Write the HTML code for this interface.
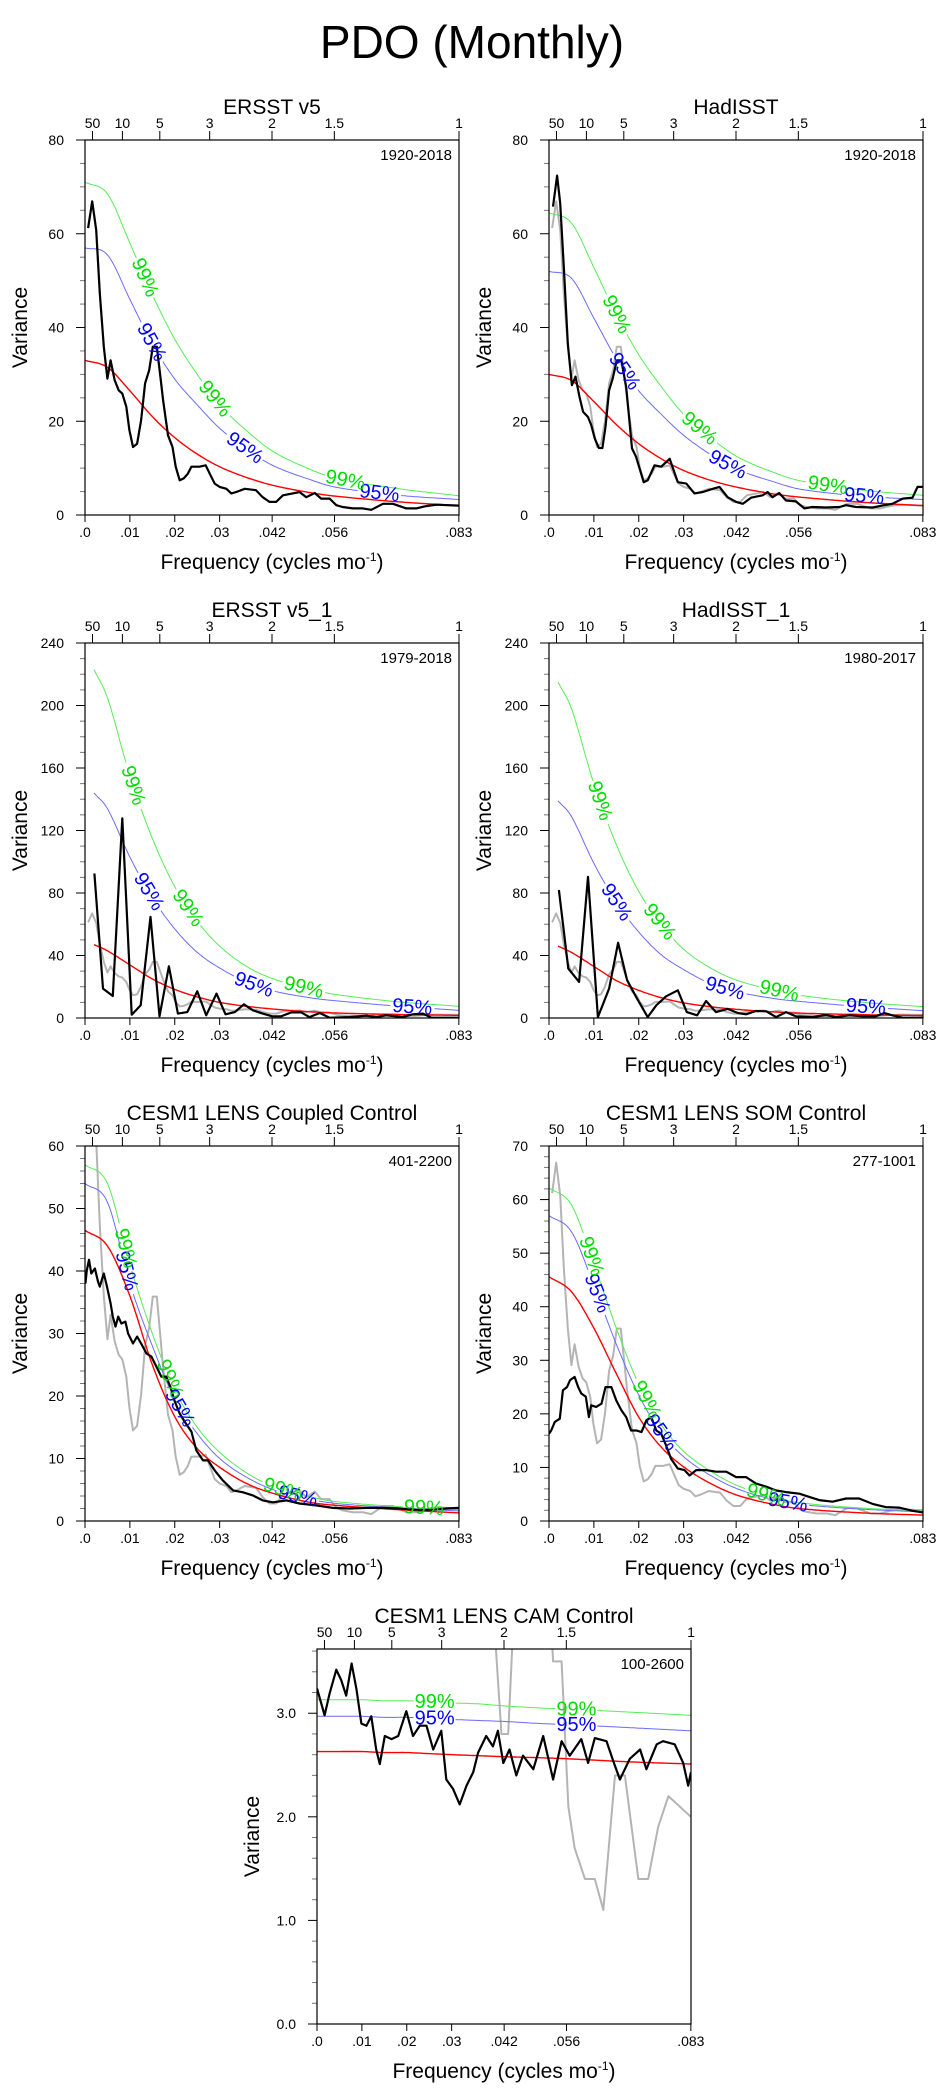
<!DOCTYPE html>
<html><head><meta charset="utf-8">
<style>
html,body{margin:0;padding:0;background:#fff;}
svg{display:block;font-family:"Liberation Sans",sans-serif;}
</style></head>
<body>
<svg id="fig" width="945" height="2091" viewBox="0 0 945 2091" xmlns="http://www.w3.org/2000/svg">
<rect width="945" height="2091" fill="#fff"/>
<text x="472" y="58" font-size="46" text-anchor="middle" fill="#000">PDO (Monthly)</text>
</svg>
<script>
// ---------- data ----------
const theoryF = [0,0.005,0.01,0.015,0.02,0.025,0.03,0.036,0.042,0.05,0.056,0.07,0.0833];
const theoryF2 = [0.002,0.005,0.01,0.015,0.02,0.025,0.03,0.036,0.042,0.05,0.056,0.07,0.0833];
const periodTicks = [50,10,5,3,2,1.5,1];
const freqTicks = [0,0.01,0.02,0.03,0.0417,0.0556,0.0833];
const freqTickLabels = ['.0','.01','.02','.03','.042','.056','.083'];

// ERSST v5 1920-2018 (also gray reference in every panel)
const ersstF = [.0007,.0016,.0025,.0033,.0042,.005,.0057,.0066,.0075,.0083,.0092,.0099,.0107,.0116,.0125,.0134,.0143,.0151,.016,.0168,.0174,.0185,.0195,.0202,.0211,.022,.0229,.0237,.0255,.0269,.0278,.0289,.03,.0315,.0326,.0337,.0356,.0381,.0396,.0411,.0426,.0441,.0463,.0478,.0493,.0512,.0526,.0545,.056,.0574,.0597,.0619,.0638,.0664,.0686,.0716,.0738,.076,.0783,.0833];
const ersstV = [61.2,66.9,60.8,47.3,35.9,29.1,33,28.8,26.6,25.9,23.1,18.1,14.5,15.2,20.2,28.1,30.9,35.9,35.9,29.5,24.5,17,14.5,10.3,7.4,7.8,8.8,10.3,10.3,10.6,8.8,6.7,6.0,5.6,4.6,4.9,5.6,5.3,3.8,2.8,2.8,4.2,4.6,4.9,3.8,4.7,3.5,3.5,2.1,1.7,1.4,1.4,1.1,2.4,2.4,1.4,1.4,1.9,2.2,2.0];
const p1Red = [33,31.5,26.5,21,16.5,13,10.3,8,6.3,4.8,4,2.8,2.0];
const p1C95 = [57,55.5,46,36.5,29,23.5,18.5,14,10.5,7.6,5.9,4.2,3.3];
const p1C99 = [71,68.5,58,47,37.5,30,23.5,18,13.5,9.8,7.8,5.6,4.1];

const hadF = [.0009,.0018,.0025,.0033,.0042,.0051,.0059,.0068,.0076,.0087,.0094,.0102,.0111,.0119,.0126,.0134,.0142,.0151,.0161,.0172,.0185,.0194,.0211,.022,.0235,.025,.0269,.0287,.0306,.0324,.0343,.0365,.038,.0398,.0417,.0432,.045,.0476,.0487,.0498,.0513,.0528,.055,.0569,.0587,.0617,.0647,.0662,.0684,.0721,.0747,.0765,.0788,.081,.0821,.0833];
const hadV = [65.8,72.4,66.5,53,36.6,27.7,29.5,25.2,22,20.9,19.2,16.3,14.3,14.3,18.8,26.6,29.1,33,33,27.3,14.2,12.4,7,7.4,10.6,10.3,12,7,6.7,4.6,4.9,5.6,6,3.8,2.8,2.4,3.7,4.2,4.9,3.8,4.7,3.1,2.9,1.4,1.7,1.6,1.7,2.1,1.7,1.6,2.1,2.4,3.5,3.7,6,6];
const p2Red = [30,28.7,24.2,19.3,15.2,12,9.5,7.4,5.9,4.5,3.8,2.7,2.0];
const p2C95 = [52,50.5,42,33.3,26.5,21.5,17,12.9,9.7,7.1,5.5,4,3.3];
const p2C99 = [64.5,62.3,52.8,42.8,34.2,27.4,21.5,16.5,12.4,9.1,7.3,5.3,4.2];

const ers1F = [.0021,.004,.0062,.0083,.0104,.0124,.0146,.0166,.0187,.0207,.0228,.025,.027,.0293,.0313,.0334,.0354,.0374,.0396,.0417,.0437,.046,.0482,.05,.0523,.0545,.059,.0627,.065,.0671,.0708,.073,.0753,.0772,.0833];
const ers1V = [92.5,18.8,14.1,127.8,2.1,8.1,64.8,1.1,33.1,2.8,3.8,17.1,1.7,15.6,2.4,3.8,8.8,4.9,2.8,1.1,1.1,3.6,3.6,0.6,3.2,0.2,0.6,1.5,0.6,1.7,0.6,2.4,2.8,0.2,0.2];
const p3Red = [47,43,34,25,18.3,13.5,10,7.5,5.7,4,3.2,2.2,1.7];
const p3C95 = [144,134,103,77,57,42,32,23,17.3,13,11,7.5,4.9];
const p3C99 = [223,205,155,115,84,62,46,33,25,18.5,15,10.3,7.5];

const had1F = [.0022,.0043,.0067,.0087,.0109,.0134,.0154,.0174,.0194,.022,.0239,.0261,.0287,.0307,.033,.035,.0372,.0398,.0421,.0439,.0461,.0484,.0506,.0528,.055,.0587,.0617,.064,.0669,.0699,.0728,.0747,.0765,.0788,.0833];
const had1V = [81.9,31.6,23.1,90.4,0.6,18.8,48.1,24.2,13.5,0.6,8.1,13.9,17.7,3.8,1.7,10.9,3.8,5.8,3.2,2.4,4.5,4.3,0.6,3.8,1.1,0.6,1.9,0.6,1.7,1.1,1.1,3.2,1.7,0.2,0.2];
const p4Red = [46,42,33,24,17.7,13,9.7,7.2,5.5,3.9,3.1,2.1,1.6];
const p4C95 = [139,129,99,74,55,40.5,31,22,16.7,12.5,10.6,7.2,4.7];
const p4C99 = [215,198,150,111,81,60,44,32,24,18,14.5,10,7.3];

const cplF = [.0001,.0004,.0009,.0014,.0022,.0029,.0033,.0042,.0049,.0057,.0062,.0068,.0074,.0081,.009,.0096,.0107,.0116,.0125,.0137,.0148,.0159,.017,.0181,.019,.02,.0211,.0222,.0237,.0248,.0263,.0274,.0289,.0307,.033,.0352,.0374,.0396,.0419,.0449,.0478,.0515,.0552,.0589,.0627,.0664,.0701,.0738,.0775,.0805,.0833];
const cplV = [38,40.1,41.8,39.6,40.4,38.3,37.5,39.6,37.5,34.8,32.7,31.1,32.7,31.6,31.9,30,28.4,29.5,28.4,26.8,26.3,24.7,23.1,23.1,21.5,19.1,17.2,15.9,14.3,11.3,9.7,9.7,8.1,6.5,4.9,4.6,4.1,3.3,3.0,3.3,2.8,2.5,2.1,2.0,2.1,2.1,2.0,1.8,1.8,2.0,2.1];
const p5Red = [46.5,44,36,25,16.7,11.6,8.6,6,4.4,3,2.5,1.8,1.3];
const p5C95 = [54,51,38,28,19.5,14,10,7,5,3.5,2.8,2.1,1.6];
const p5C99 = [57,54,41,30,21,15,11,7.7,5.5,3.9,3.1,2.3,1.8];

const somF = [0,.0005,.0013,.0024,.0031,.004,.0047,.0057,.0065,.0072,.0082,.0089,.0094,.0105,.0117,.0126,.0139,.015,.0161,.0172,.0183,.0195,.0206,.0217,.0228,.0239,.025,.0261,.0272,.0287,.0302,.0313,.0328,.035,.0372,.0395,.0417,.0439,.0461,.0484,.0506,.0528,.0558,.058,.0602,.0632,.0662,.0691,.0721,.075,.078,.081,.0833];
const somV = [16.3,16.9,18.5,19.1,24.4,25,26.3,26.9,25,23.8,23.2,19.4,21.6,21.3,21.9,25,25,22.5,20.7,19.4,16.9,16.9,16.6,18.8,19.4,16.9,16.3,14.1,11.6,9.8,9.5,8.5,9.5,9.5,9.2,9.2,8.2,8.2,7,6.4,5.7,5.4,5.1,4.5,3.9,3.6,4.2,4.2,3.2,2.6,2.5,1.9,1.6];
const p6Red = [45.6,42.8,36,27.5,19.4,13.8,10.1,7,4.8,3.1,2.3,1.5,1.1];
const p6C95 = [57,54,44,33,23.5,16.5,12,8.5,6,4,3.1,2.2,1.7];
const p6C99 = [62.2,59,48,36,25.5,18,13,9.3,6.6,4.4,3.4,2.4,1.9];

const camF = [0,.0017,.0028,.0043,.0054,.0065,.0077,.0088,.0099,.011,.0121,.0132,.014,.0151,.0166,.0181,.0199,.0214,.0229,.0244,.0259,.0277,.0288,.0303,.0318,.0333,.0348,.0359,.0377,.0392,.0403,.0415,.0429,.0444,.0459,.0482,.0504,.0526,.0545,.0563,.0589,.0604,.0619,.0645,.066,.0675,.0697,.072,.0734,.0757,.0771,.0797,.0816,.0827,.0833];
const camV = [3.24,2.98,3.19,3.42,3.32,3.17,3.48,3.23,2.90,2.88,2.97,2.65,2.51,2.78,2.75,2.78,3.02,2.78,2.88,2.88,2.65,2.83,2.36,2.27,2.12,2.30,2.43,2.62,2.78,2.68,2.83,2.52,2.65,2.40,2.59,2.46,2.78,2.36,2.73,2.59,2.75,2.52,2.76,2.73,2.54,2.36,2.56,2.65,2.46,2.70,2.73,2.70,2.52,2.30,2.43];
const p7Red = [2.63,2.63,2.63,2.62,2.62,2.61,2.60,2.59,2.58,2.57,2.56,2.53,2.51];
const p7C95 = [2.97,2.97,2.97,2.96,2.96,2.95,2.94,2.93,2.92,2.90,2.89,2.86,2.83];
const p7C99 = [3.13,3.13,3.13,3.12,3.12,3.11,3.10,3.09,3.07,3.05,3.04,3.01,2.98];

// ---------- drawing ----------
const NS = 'http://www.w3.org/2000/svg';
const svg = document.getElementById('fig');
const FMAX = 1/12;
function mk(tag, attrs, parent){ const e=document.createElementNS(NS,tag); for(const k in attrs) e.setAttribute(k,attrs[k]); (parent||svg).appendChild(e); return e; }
function interp(xs, ys, x){
  const n=xs.length;
  if(x<=xs[0]) return ys[0]; if(x>=xs[n-1]) return ys[n-1];
  let i=0; while(xs[i+1]<x) i++;
  const tan=j=>{ if(j===0) return (ys[1]-ys[0])/(xs[1]-xs[0]); if(j===n-1) return (ys[n-1]-ys[n-2])/(xs[n-1]-xs[n-2]); return (ys[j+1]-ys[j-1])/(xs[j+1]-xs[j-1]); };
  const h=xs[i+1]-xs[i], t=(x-xs[i])/h, t2=t*t, t3=t2*t;
  return (2*t3-3*t2+1)*ys[i]+(t3-2*t2+t)*h*tan(i)+(-2*t3+3*t2)*ys[i+1]+(t3-t2)*h*tan(i+1);
}

const panels = [
 {id:'ersst-v5', title:'ERSST v5', period:'1920-2018', x:85, y:140, ymax:80, major:20, minor:5, dec:0, bf:ersstF, bv:ersstV, tf:theoryF, red:p1Red, c95:p1C95, c99:p1C99, l99:[.0133,.0289,.058], l95:[.0148,.0356,.0656], xt:true},
 {id:'hadisst', title:'HadISST', period:'1920-2018', x:549, y:140, ymax:80, major:20, minor:5, dec:0, bf:hadF, bv:hadV, tf:theoryF, red:p2Red, c95:p2C95, c99:p2C99, l99:[.015,.0335,.0621], l95:[.0168,.0398,.0702], xt:true},
 {id:'ersst-v5-1', title:'ERSST v5_1', period:'1979-2018', x:85, y:643, ymax:240, major:40, minor:10, dec:0, bf:ers1F, bv:ers1V, tf:theoryF2, red:p3Red, c95:p3C95, c99:p3C99, l99:[.0107,.0229,.0487], l95:[.0142,.0376,.0729], xt:true},
 {id:'hadisst-1', title:'HadISST_1', period:'1980-2017', x:549, y:643, ymax:240, major:40, minor:10, dec:0, bf:had1F, bv:had1V, tf:theoryF2, red:p4Red, c95:p4C95, c99:p4C99, l99:[.0113,.0246,.0513], l95:[.015,.0392,.0706], xt:true},
 {id:'cesm-coupled', title:'CESM1 LENS Coupled Control', period:'401-2200', x:85, y:1146, ymax:60, major:10, minor:2, dec:0, bf:cplF, bv:cplV, tf:theoryF, red:p5Red, c95:p5C95, c99:p5C99, l99:[.009,.0189,.0441,.0755], l95:[.0092,.0211,.0474], xt:true},
 {id:'cesm-som', title:'CESM1 LENS SOM Control', period:'277-1001', x:549, y:1146, ymax:70, major:10, minor:2, dec:0, bf:somF, bv:somV, tf:theoryF, red:p6Red, c95:p6C95, c99:p6C99, l99:[.0094,.0217,.0484], l95:[.0107,.025,.0532], xt:true},
 {id:'cesm-cam', title:'CESM1 LENS CAM Control', period:'100-2600', x:317, y:1649, ymax:3.62, major:1, minor:0.2, dec:1, bf:camF, bv:camV, tf:theoryF, red:p7Red, c95:p7C95, c99:p7C99, l99:[.0262,.0578], l95:[.0262,.0578], xt:true, flat:true}
];
const W=374, H=375;

panels.forEach((p,pi)=>{
  const g = mk('g',{});
  
  
  const sx = f => p.x + f/FMAX*W;
  const sy = v => p.y + H - v/p.ymax*H;
  const cp = mk('clipPath',{id:'clip'+pi}, g);
  mk('rect',{x:p.x,y:p.y,width:W,height:H}, cp);

  const t = mk('text',{x:p.x+W/2, y:p.y-26, 'font-size':21, 'text-anchor':'middle'}, g);
  t.textContent = p.title;
  
  
  const pr = mk('text',{x:p.x+W-7, y:p.y+20, 'font-size':15, 'text-anchor':'end'}, g);
  pr.textContent = p.period;
  
  

  const nMinor = Math.round(p.ymax/p.minor);
  for(let k=0;k<=nMinor;k++){
    const v=k*p.minor; if(v>p.ymax+1e-9) break;
    const isMaj = Math.abs(v/p.major - Math.round(v/p.major))<1e-6;
    const yy=sy(v);
    const tk = mk('line',{x1:p.x-(isMaj?9:5), x2:p.x, y1:yy, y2:yy, stroke:isMaj?'#000':'#777', 'stroke-width':1}, g);
    
    
    if(isMaj){
      const tl = mk('text',{x:p.x-21, y:yy+5, 'font-size':14, 'text-anchor':'end'}, g);
      tl.textContent = v.toFixed(p.dec);
      
      
    }
  }
  freqTicks.forEach((f,i)=>{
    const xx=sx(f);
    const tk = mk('line',{x1:xx,x2:xx,y1:p.y+H,y2:p.y+H+7,stroke:'#000'}, g);
    
    
    const tl = mk('text',{x:xx, y:p.y+H+22, 'font-size':14, 'text-anchor':'middle'}, g);
    tl.textContent = freqTickLabels[i];
    
    
  });
  periodTicks.forEach(yr=>{
    const xx=sx(1/(12*yr));
    const tk = mk('line',{x1:xx,x2:xx,y1:p.y,y2:p.y-9,stroke:'#000'}, g);
    
    
    const tl = mk('text',{x:xx, y:p.y-12, 'font-size':14, 'text-anchor':'middle'}, g);
    tl.textContent = String(yr);
    
    
  });
  const yt = mk('text',{x:0,y:0,'font-size':21,'text-anchor':'middle',transform:`translate(${p.x-58},${p.y+H/2}) rotate(-90)`}, g);
  yt.textContent='Variance';
  
  
  if(p.xt){
    const xt = mk('text',{x:p.x+W/2, y:p.y+H+54, 'font-size':21, 'text-anchor':'middle'}, g);
    xt.innerHTML = 'Frequency (cycles mo<tspan dy="-8" font-size="12">-1</tspan><tspan dy="8">)</tspan>';
    
    
  }

  const plot = mk('g',{'clip-path':`url(#clip${pi})`}, g);
  const gp = mk('polyline',{points:ersstF.map((f,i)=>sx(f)+','+sy(ersstV[i])).join(' '), fill:'none', stroke:'#b4b4b4','stroke-width':2,'stroke-linejoin':'round'}, plot);
  
  

  function curve(vals, color, sw, labels, txt, txtColor, name){
    const pts=[]; const f0=p.tf[0], f1=p.tf[p.tf.length-1];
    for(let k=0;k<=240;k++){ const f=f0+(f1-f0)*k/240; pts.push([sx(f), sy(interp(p.tf, vals, f))]); }
    const centers = labels.map(fl=>[sx(fl), sy(interp(p.tf, vals, fl)), fl]);
    let seg=[]; const segs=[];
    pts.forEach(pt=>{
      const near = centers.some(c=>Math.hypot(pt[0]-c[0],pt[1]-c[1])<21);
      if(near){ if(seg.length>1) segs.push(seg); seg=[]; } else seg.push(pt);
    });
    if(seg.length>1) segs.push(seg);
    segs.forEach(s=>{
      const l = mk('polyline',{points:s.map(q=>q[0].toFixed(1)+','+q[1].toFixed(1)).join(' '), fill:'none', stroke:color, 'stroke-width':sw}, plot);
      
      
    });
    centers.forEach(c=>{
      const d=0.0006;
      const a = Math.atan2(sy(interp(p.tf,vals,c[2]+d))-sy(interp(p.tf,vals,c[2]-d)), sx(c[2]+d)-sx(c[2]-d))*180/Math.PI;
      const lt = mk('text',{x:0,y:0,'font-size':20,'text-anchor':'middle','dominant-baseline':'central',fill:txtColor,transform:`translate(${c[0].toFixed(1)},${c[1].toFixed(1)}) rotate(${p.flat?0:a.toFixed(1)})`}, g);
      lt.textContent = txt;
      
      
    });
  }
  curve(p.red, '#ff0000', 1.4, [], '', '#f00', 'red-noise-curve');
  curve(p.c95, '#6a6aff', 1, p.l95, '95%', '#0000ff', 'conf-95-curve');
  curve(p.c99, '#55ee55', 1, p.l99, '99%', '#00dd00', 'conf-99-curve');

  const bp = mk('polyline',{points:p.bf.map((f,i)=>sx(f).toFixed(1)+','+sy(p.bv[i]).toFixed(1)).join(' '), fill:'none', stroke:'#000','stroke-width':2.2,'stroke-linejoin':'round'}, plot);
  
  

  const fr = mk('rect',{x:p.x,y:p.y,width:W,height:H,fill:'none',stroke:'#000','stroke-width':1.2}, g);
  
  
});
</script>
</body></html>
